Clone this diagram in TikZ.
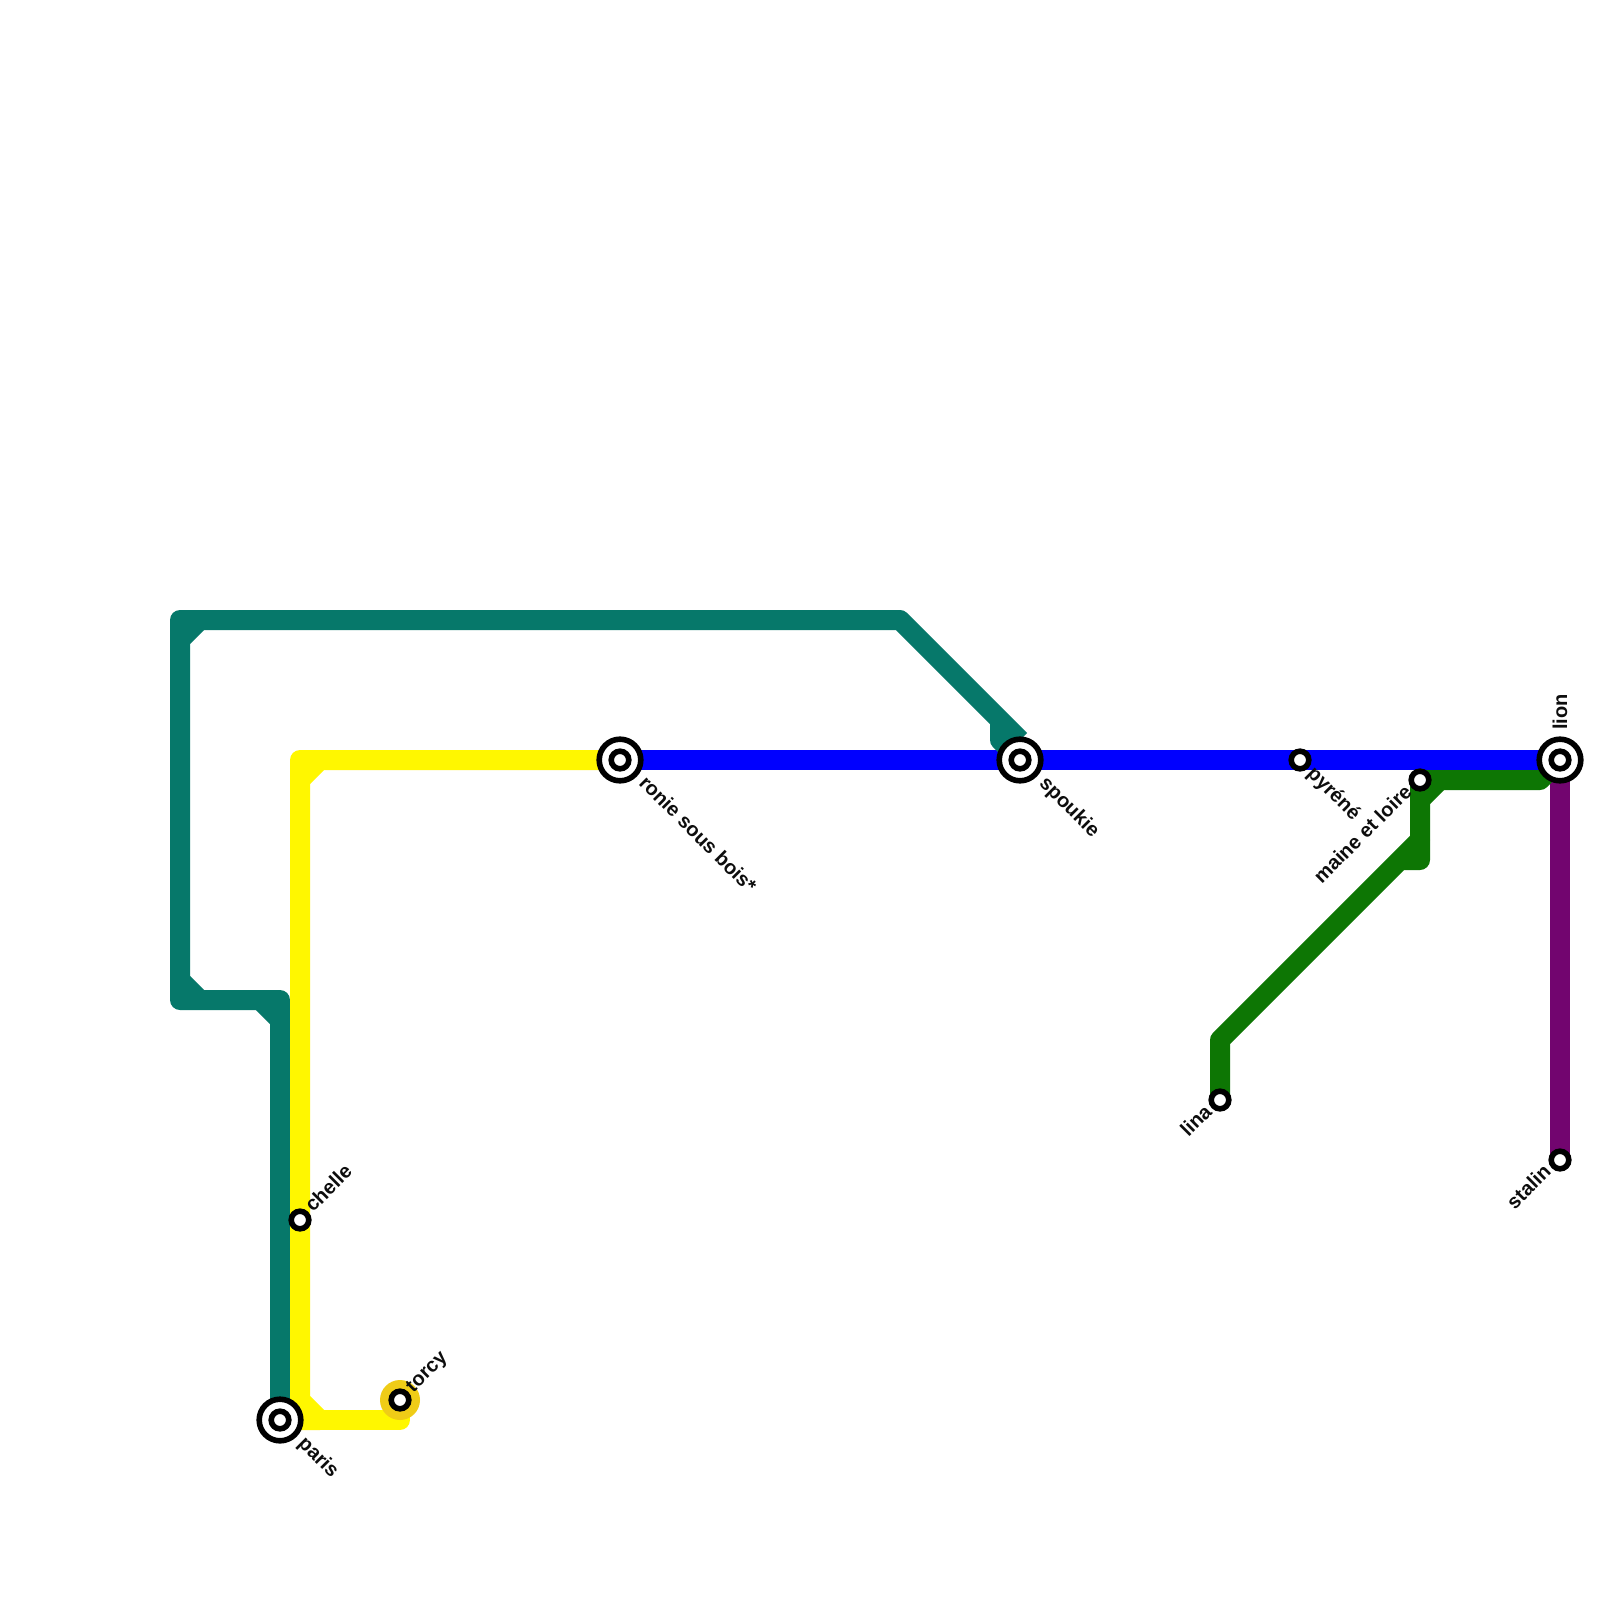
\documentclass[tikz,border=0pt]{standalone}
\usepackage{fontspec}
\setmainfont{Liberation Sans}
\definecolor{lteal}{HTML}{06786A}
\definecolor{lyellow}{HTML}{FFF700}
\definecolor{lblue}{HTML}{0000FF}
\definecolor{lgreen}{HTML}{0D7604}
\definecolor{lpurple}{HTML}{72056F}
\definecolor{lgold}{HTML}{EFCC17}
\tikzset{
  metro/.style={line width=20pt,line join=round,line cap=butt},
  stn/.style={circle,draw=black,fill=white,line width=5.6pt,minimum size=17.6pt,inner sep=0pt,outer sep=0pt},
  hub/.style={circle,draw=black,fill=white,line width=5.6pt,minimum size=41.6pt,inner sep=0pt,outer sep=0pt},
  lab/.style={font=\fontsize{20}{22}\selectfont\bfseries,inner sep=0pt,text=black!95},
  labfwd/.style={lab,anchor=west},
  labback/.style={lab,anchor=east},
}
\begin{document}
\begin{tikzpicture}[x=1pt,y=-1pt]
\useasboundingbox (0,0) rectangle (1600,1600);
\fill[white] (0,0) rectangle (1600,1600);
% station anchors
\coordinate (paris) at (280,1420);
\coordinate (chelle) at (300,1220);
\coordinate (torcy) at (400,1400);
\coordinate (ronie) at (620,760);
\coordinate (spoukie) at (1020,760);
\coordinate (pyrene) at (1300,760);
\coordinate (lion) at (1560,760);
\coordinate (maine) at (1420,780);
\coordinate (lina) at (1220,1100);
\coordinate (stalin) at (1560,1160);
% purple
\draw[metro,lpurple] (lion) -- (stalin);
% green
\draw[metro,lgreen] (lina) -- (1220,1040) -- (1400,860) -- (1420,860) -- (1420,840) -- (1400,860);
\draw[metro,lgreen] (1420,840) -- (maine) -- (1440,780) -- (1540,780) -- (lion);
\draw[metro,lgreen] (1420,800) -- (1440,780);
% blue
\draw[metro,lblue] (ronie) -- (lion);
% teal
\draw[metro,lteal] (paris) -- (280,1020) -- (280,1000) -- (260,1000) -- (280,1020);
\draw[metro,lteal] (260,1000) -- (180,1000) -- (180,980) -- (200,1000) -- (180,1000);
\draw[metro,lteal] (180,980) -- (180,620) -- (180,640) -- (200,620) -- (180,620);
\draw[metro,lteal] (200,620) -- (900,620) -- (1020,740);
\draw[metro,lteal] (1000,720) -- (1000,740) -- (spoukie);
% yellow
\draw[metro,lyellow] (ronie) -- (320,760) -- (300,760) -- (300,780) -- (320,760);
\draw[metro,lyellow] (300,780) -- (300,1420) -- (320,1420) -- (300,1400);
\draw[metro,lyellow] (paris) -- (400,1420) -- (torcy);
% stations
\fill[lgold] (torcy) circle (20pt);
\node[hub] (parisO) at (paris) {};
\node[stn] (parisI) at (paris) {};
\node[hub] (ronieO) at (ronie) {};
\node[stn] (ronieI) at (ronie) {};
\node[hub] (spoukieO) at (spoukie) {};
\node[stn] (spoukieI) at (spoukie) {};
\node[hub] (lionO) at (lion) {};
\node[stn] (lionI) at (lion) {};
\node[stn] (chelleS) at (chelle) {};
\node[stn] (torcyS) at (torcy) {};
\node[stn] (pyreneS) at (pyrene) {};
\node[stn] (maineS) at (maine) {};
\node[stn] (linaS) at (lina) {};
\node[stn] (stalinS) at (stalin) {};
% labels
\node[labfwd,rotate=-45] (lparis) at (301,1441) {paris};
\node[labfwd,rotate=45] (lchelle) at (308,1208) {chelle};
\node[labfwd,rotate=45] (ltorcy) at (410,1390) {torcy};
\node[labfwd,rotate=-45] (lronie) at (643,779) {ronie sous bois*};
\node[labfwd,rotate=-45] (lspoukie) at (1042,781) {spoukie};
\node[labfwd,rotate=-45] (lpyrene) at (1310,771) {pyréné};
\node[labfwd,rotate=90] (llion) at (1560,730) {lion};
\node[labback,rotate=45] (lmaine) at (1408,788) {maine et loire};
\node[labback,rotate=45] (llina) at (1208,1108) {lina};
\node[labback,rotate=45] (lstalin) at (1547,1168) {stalin};
\end{tikzpicture}
\end{document}
